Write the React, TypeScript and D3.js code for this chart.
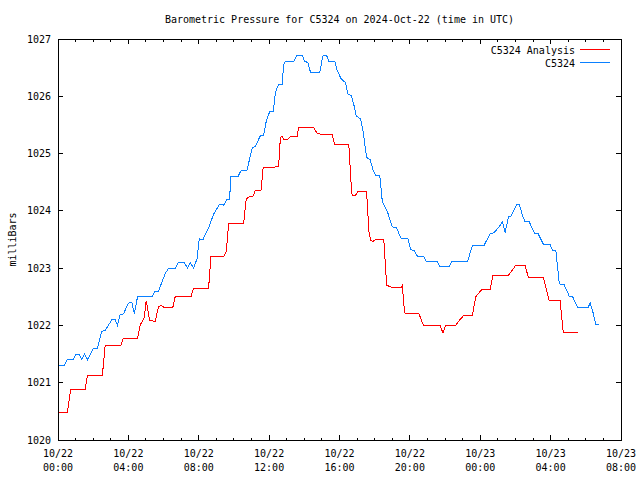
import React from "react";
import * as d3 from "d3";

// Hours since 2024-10-22 00:00 UTC and pressure (mbar)
const analysisHours = [0.0, 0.53, 0.72, 1.54, 1.67, 2.52, 2.68, 3.57, 3.72, 4.52, 4.67, 4.9, 5.01, 5.08, 5.2, 5.52, 5.71, 5.86, 6.0, 6.53, 6.66, 7.56, 7.7, 8.56, 8.69, 9.41, 9.57, 9.7, 10.55, 10.7, 10.84, 11.09, 11.22, 11.54, 11.66, 12.54, 12.64, 12.74, 12.83, 13.06, 13.21, 13.59, 13.68, 14.54, 14.73, 15.16, 15.58, 15.73, 16.53, 16.67, 16.72, 16.91, 17.04, 17.54, 17.67, 17.77, 17.92, 18.05, 18.52, 18.68, 18.94, 19.51, 19.57, 19.7, 19.89, 20.52, 20.77, 21.71, 21.88, 22.04, 22.61, 22.76, 23.08, 23.56, 23.74, 24.07, 24.56, 24.73, 25.61, 26.02, 26.55, 26.74, 27.6, 27.92, 28.54, 28.72, 29.57];
const analysisValues = [1020.48, 1020.48, 1020.88, 1020.88, 1021.12, 1021.12, 1021.65, 1021.65, 1021.78, 1021.78, 1022.01, 1022.13, 1022.42, 1022.33, 1022.09, 1022.07, 1022.32, 1022.35, 1022.32, 1022.32, 1022.5, 1022.5, 1022.65, 1022.65, 1023.2, 1023.2, 1023.3, 1023.78, 1023.78, 1024.21, 1024.24, 1024.26, 1024.36, 1024.36, 1024.75, 1024.77, 1025.28, 1025.3, 1025.25, 1025.25, 1025.3, 1025.3, 1025.45, 1025.45, 1025.35, 1025.33, 1025.33, 1025.15, 1025.15, 1024.43, 1024.27, 1024.27, 1024.33, 1024.33, 1023.65, 1023.48, 1023.47, 1023.5, 1023.5, 1022.7, 1022.67, 1022.67, 1022.7, 1022.22, 1022.2, 1022.2, 1022.0, 1022.0, 1021.87, 1022.0, 1022.0, 1022.07, 1022.18, 1022.18, 1022.5, 1022.62, 1022.62, 1022.88, 1022.88, 1023.05, 1023.05, 1022.83, 1022.83, 1022.43, 1022.43, 1021.87, 1021.87];

const obsHours = [0.0, 0.34, 0.53, 0.87, 1.02, 1.21, 1.35, 1.5, 1.67, 2.01, 2.24, 2.49, 2.68, 3.06, 3.25, 3.38, 3.53, 3.72, 4.0, 4.2, 4.34, 4.52, 5.34, 5.52, 5.71, 6.09, 6.28, 6.66, 6.85, 7.17, 7.36, 7.52, 7.7, 7.9, 8.03, 8.24, 8.56, 8.84, 9.17, 9.41, 9.61, 9.75, 9.83, 10.23, 10.4, 10.74, 10.84, 11.03, 11.22, 11.5, 11.69, 11.84, 12.03, 12.23, 12.36, 12.54, 12.74, 12.83, 12.93, 13.4, 13.59, 13.88, 14.01, 14.2, 14.35, 14.88, 15.02, 15.07, 15.26, 15.39, 15.73, 15.87, 16.1, 16.34, 16.47, 16.67, 16.81, 16.95, 17.2, 17.35, 17.54, 17.73, 17.92, 18.07, 18.29, 18.43, 18.72, 19.0, 19.25, 19.51, 19.89, 20.04, 20.27, 20.42, 20.77, 20.94, 21.56, 21.71, 22.22, 22.38, 23.27, 23.56, 24.22, 24.56, 24.79, 25.07, 25.26, 25.41, 25.61, 25.74, 26.08, 26.23, 26.4, 26.55, 26.78, 27.1, 27.29, 27.6, 27.97, 28.11, 28.3, 28.49, 28.58, 28.77, 29.06, 29.25, 29.53, 30.14, 30.25, 30.39, 30.58, 30.77];
const obsValues = [1021.3, 1021.3, 1021.4, 1021.4, 1021.5, 1021.5, 1021.4, 1021.5, 1021.4, 1021.6, 1021.6, 1021.9, 1021.91, 1022.1, 1022.1, 1022.0, 1022.19, 1022.2, 1022.39, 1022.4, 1022.2, 1022.5, 1022.5, 1022.6, 1022.6, 1022.9, 1023.0, 1023.0, 1023.1, 1023.1, 1023.0, 1023.1, 1023.0, 1023.16, 1023.51, 1023.5, 1023.7, 1023.94, 1024.11, 1024.1, 1024.2, 1024.2, 1024.6, 1024.6, 1024.7, 1024.7, 1024.84, 1025.09, 1025.13, 1025.31, 1025.32, 1025.57, 1025.73, 1025.73, 1026.07, 1026.21, 1026.21, 1026.56, 1026.61, 1026.61, 1026.72, 1026.72, 1026.61, 1026.59, 1026.42, 1026.42, 1026.65, 1026.72, 1026.72, 1026.61, 1026.61, 1026.45, 1026.3, 1026.24, 1026.04, 1026.01, 1025.86, 1025.66, 1025.6, 1025.37, 1024.93, 1024.9, 1024.7, 1024.62, 1024.62, 1024.17, 1023.99, 1023.72, 1023.7, 1023.51, 1023.51, 1023.33, 1023.3, 1023.21, 1023.21, 1023.11, 1023.11, 1023.02, 1023.02, 1023.11, 1023.11, 1023.4, 1023.4, 1023.6, 1023.62, 1023.72, 1023.81, 1023.62, 1023.9, 1023.91, 1024.11, 1024.11, 1023.91, 1023.81, 1023.81, 1023.6, 1023.6, 1023.41, 1023.41, 1023.31, 1023.3, 1022.74, 1022.71, 1022.71, 1022.51, 1022.5, 1022.32, 1022.32, 1022.39, 1022.25, 1022.01, 1022.01];

const yTicks = [1020, 1021, 1022, 1023, 1024, 1025, 1026, 1027];
const seriesNames = ["C5324 Analysis", "C5324"];
const seriesColors = ["#ff0000", "#0a80ff"];
const titleText = "Barometric Pressure for C5324 on 2024-Oct-22 (time in UTC)";
const yLabel = "milliBars";

const start = Date.UTC(2024, 9, 22, 0, 0);
const toDate = (h: number) => new Date(start + h * 3600 * 1000);

export default function App() {
  const W = 640, H = 480;
  const left = 58, right = 621, top = 39, bottom = 440;
  const x = d3.scaleUtc().domain([toDate(0), toDate(32)]).range([left, right]);
  const y = d3.scaleLinear().domain([1020, 1027]).range([bottom, top]);
  const line = d3.line<[number, number]>().x(d => x(toDate(d[0]))).y(d => y(d[1]));
  const analysis: [number, number][] = analysisHours.map((h, i) => [h, analysisValues[i]]);
  const obs: [number, number][] = obsHours.map((h, i) => [h, obsValues[i]]);
  const majorTicks = x.ticks(d3.utcHour.every(4)!);
  const minorTicks = x.ticks(d3.utcHour.every(1)!).filter(t => t.getUTCHours() % 4 !== 0);
  const fmtDate = d3.utcFormat("%m/%d");
  const fmtTime = d3.utcFormat("%H:%M");
  const font = "'DejaVu Sans Mono', monospace";
  const fs = 10;
  return (
    <svg width={W} height={H} style={{ position: "absolute", left: 0, top: 0, background: "#fff" }} fontFamily={font} fontSize={fs}>
      <rect width={W} height={H} fill="#fff" />
      <text x={(left + right) / 2} y={23} textAnchor="middle">{titleText}</text>
      <text transform={`translate(13,${(top + bottom) / 2}) rotate(-90)`} textAnchor="middle" dominantBaseline="middle">{yLabel}</text>
      <g shapeRendering="crispEdges">
        {yTicks.map(t => (
          <g key={t}>
            <line x1={left} x2={left + 5} y1={y(t)} y2={y(t)} stroke="#000" />
            <line x1={right} x2={right - 5} y1={y(t)} y2={y(t)} stroke="#000" />
          </g>
        ))}
        {minorTicks.map(t => (
          <g key={"m" + t.getTime()}>
            <line x1={x(t)} x2={x(t)} y1={bottom} y2={bottom - 2.5} stroke="#000" />
            <line x1={x(t)} x2={x(t)} y1={top} y2={top + 2.5} stroke="#000" />
          </g>
        ))}
        {majorTicks.map(t => (
          <g key={"M" + t.getTime()}>
            <line x1={x(t)} x2={x(t)} y1={bottom} y2={bottom - 5} stroke="#000" />
            <line x1={x(t)} x2={x(t)} y1={top} y2={top + 5} stroke="#000" />
          </g>
        ))}
        <path d={line(analysis) || ""} fill="none" stroke={seriesColors[0]} strokeWidth={1} />
        <path d={line(obs) || ""} fill="none" stroke={seriesColors[1]} strokeWidth={1} />
        <rect x={left} y={top} width={right - left} height={bottom - top} fill="none" stroke="#000" />
        {seriesNames.map((n, i) => (
          <line key={n} x1={580} x2={610} y1={49.5 + i * 13} y2={49.5 + i * 13} stroke={seriesColors[i]} />
        ))}
      </g>
      {yTicks.map(t => (
        <text key={"l" + t} x={51} y={y(t)} textAnchor="end" dominantBaseline="central">{t}</text>
      ))}
      {majorTicks.map(t => (
        <g key={"L" + t.getTime()}>
          <text x={x(t)} y={457} textAnchor="middle">{fmtDate(t)}</text>
          <text x={x(t)} y={471} textAnchor="middle">{fmtTime(t)}</text>
        </g>
      ))}
      {seriesNames.map((n, i) => (
        <text key={"t" + n} x={575} y={50 + i * 13} textAnchor="end" dominantBaseline="central">{n}</text>
      ))}
    </svg>
  );
}
